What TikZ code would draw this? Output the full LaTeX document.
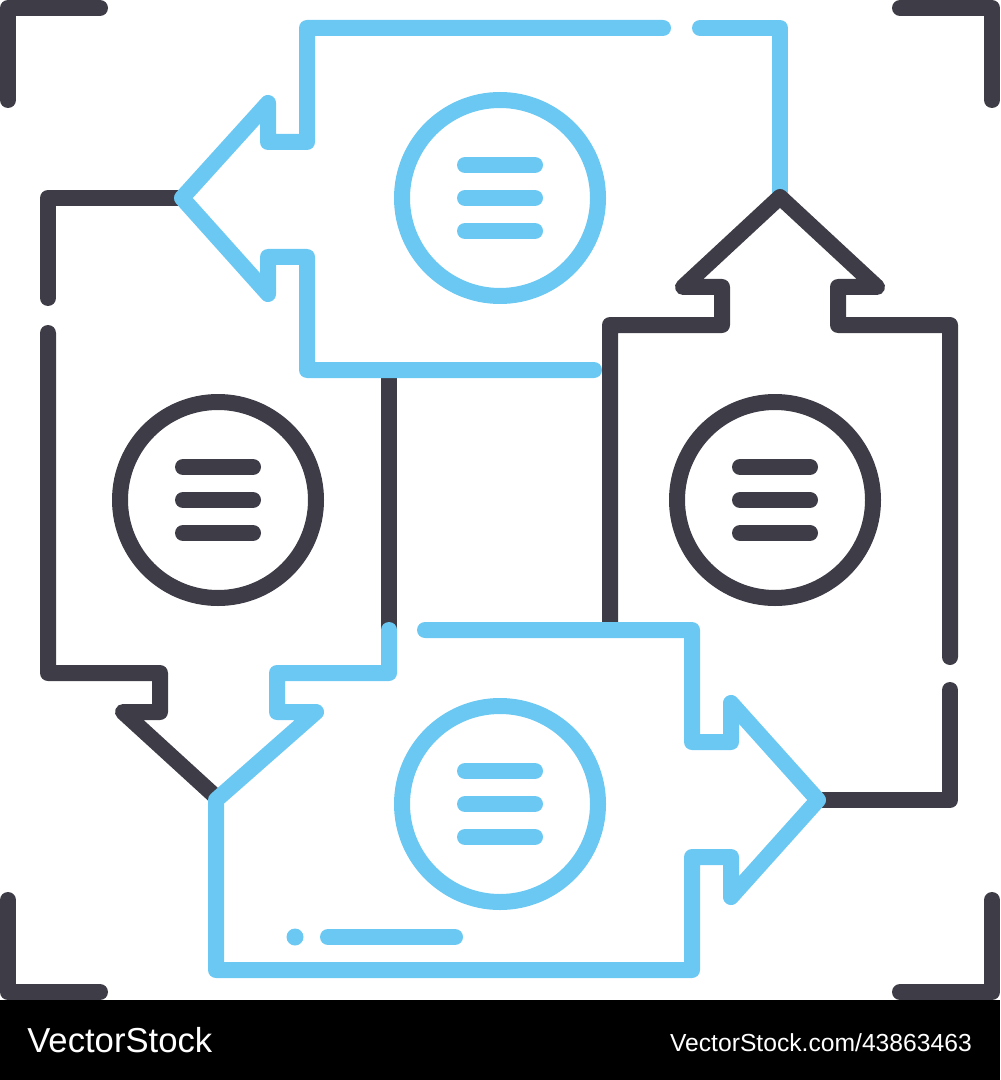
\documentclass[tikz,border=0pt]{standalone}
\usepackage{fontspec}
\setmainfont{Liberation Sans}
\definecolor{ink}{RGB}{62,60,70}
\definecolor{sky}{RGB}{106,200,242}
\begin{document}
\begin{tikzpicture}[x=0.75pt,y=-0.75pt,
  stroke/.style={line width=12pt,line cap=round,line join=round},
  darkline/.style={stroke,draw=ink},
  blueline/.style={stroke,draw=sky},
  wm/.style={inner sep=0pt,text=white}]
\useasboundingbox (0,0) rectangle (1000,1080);
% corner brackets
\draw[darkline] (8,100) -- (8,8) -- (100,8);
\draw[darkline] (900,8) -- (992,8) -- (992,100);
\draw[darkline] (8,900) -- (8,992) -- (100,992);
\draw[darkline] (992,900) -- (992,992) -- (900,992);
% blue segment under dark tip
\draw[blueline] (700,28) -- (780,28) -- (780,193);
% dark left shape (down arrow)
\draw[darkline] (182,198) -- (48,198) -- (48,298);
\draw[darkline] (48,333) -- (48,673) -- (160,673) -- (160,712) -- (123,712) -- (216,797);
\draw[darkline] (389,372) -- (389,630);
% dark right shape (up arrow)
\draw[darkline] (818,800) -- (950,800) -- (950,690);
\draw[darkline] (950,657) -- (950,325) -- (838,325) -- (838,287) -- (877,287) -- (780,197) -- (683,287) -- (722,287) -- (722,325) -- (610,325) -- (610,622);
% dark circles
\foreach \cx in {218,775}{
  \draw[darkline] (\cx,500) circle[radius=98];
  \foreach \dy in {-33,0,33}
    \draw[darkline] (\cx-35,500+\dy) -- (\cx+35,500+\dy);
}
% blue top shape (left arrow)
\draw[blueline] (663,28) -- (307,28) -- (307,142) -- (268,142) -- (268,103) -- (182,198) -- (268,294) -- (268,257) -- (307,257) -- (307,370) -- (594,370);
% blue bottom shape (right arrow)
\draw[blueline] (389,630) -- (389,673) -- (277,673) -- (277,712) -- (316,712) -- (216,800) -- (216,970) -- (692,970) -- (692,857) -- (731,857) -- (731,897) -- (818,800) -- (731,703) -- (731,742) -- (692,742) -- (692,630) -- (425,630);
\fill[sky] (295,937) circle[radius=8.5];
\draw[blueline] (328,937) -- (455,937);
% blue circles
\foreach \cy in {198,804}{
  \draw[blueline] (500,\cy) circle[radius=98];
  \foreach \dy in {-33,0,33}
    \draw[blueline] (465,\cy+\dy) -- (535,\cy+\dy);
}
% watermark bar
\fill[black] (0,1000) rectangle (1000,1080);
\node[wm,anchor=base west,font=\fontsize{26}{30}\selectfont] (wmleft) at (27,1052) {VectorStock};
\node[wm,anchor=base east,font=\fontsize{18.5}{22}\selectfont] (wmright) at (972,1051) {VectorStock.com/43863463};
\end{tikzpicture}
\end{document}
